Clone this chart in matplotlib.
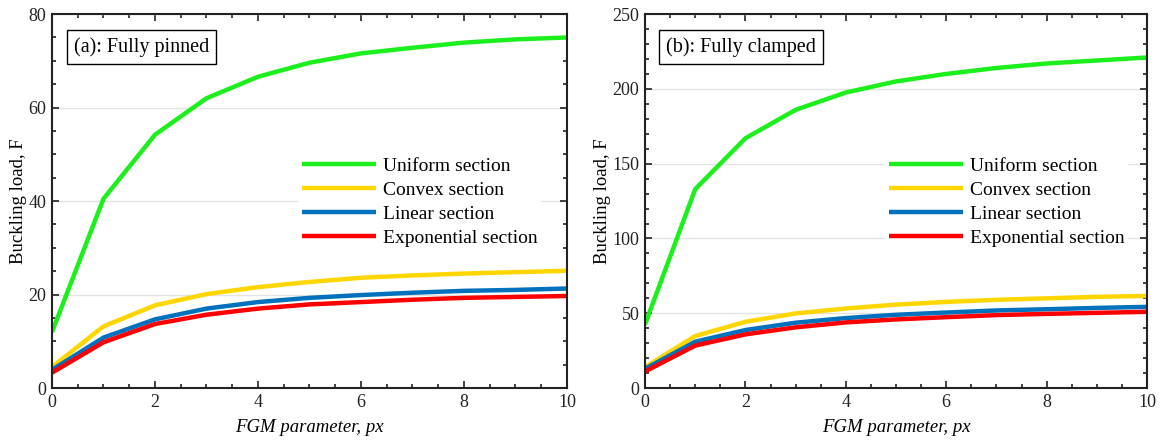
import numpy as np
import matplotlib
matplotlib.use('Agg')
from matplotlib import pyplot as plt
from matplotlib.ticker import MultipleLocator

plt.rcParams['font.family'] = ['Liberation Serif', 'DejaVu Serif']
plt.rcParams['mathtext.fontset'] = 'stix'

# FGM parameter px
px = [0, 1, 2, 3, 4, 5, 6, 7, 8, 9, 10]

# (a) fully pinned
pinned_uniform = [12.0, 40.5, 54.2, 62.0, 66.6, 69.6, 71.6, 72.8, 73.9, 74.6, 75.0]
pinned_convex = [4.5, 13.2, 17.7, 20.1, 21.6, 22.7, 23.6, 24.1, 24.5, 24.8, 25.1]
pinned_linear = [3.9, 10.8, 14.7, 17.0, 18.4, 19.3, 19.9, 20.4, 20.8, 21.0, 21.3]
pinned_expo = [3.3, 9.8, 13.7, 15.7, 17.0, 17.9, 18.4, 18.9, 19.3, 19.5, 19.7]

# (b) fully clamped
clamped_uniform = [42.6, 133.0, 167.0, 186.0, 197.6, 205.0, 210.0, 214.0, 217.0, 219.0, 221.0]
clamped_convex = [14.0, 34.8, 44.3, 49.9, 53.2, 55.8, 57.6, 59.0, 60.0, 61.0, 61.6]
clamped_linear = [12.9, 31.0, 38.8, 43.7, 46.8, 49.0, 50.5, 51.9, 52.7, 53.6, 54.3]
clamped_expo = [11.1, 28.4, 35.9, 40.6, 43.9, 45.9, 47.4, 48.8, 49.6, 50.3, 51.0]

labels = ['Uniform section', 'Convex section', 'Linear section', 'Exponential section']
colors = ['#1cf01c', '#ffd600', '#0072bd', '#ff0000']


def draw(ax, series, ymax, ymajor, yminor, title):
    for y, c, lab in zip(series, colors, labels):
        ax.plot(px, y, color=c, lw=3.2, label=lab, solid_capstyle='butt')
    ax.set_xlim(0, 10)
    ax.set_ylim(0, ymax)
    ax.xaxis.set_major_locator(MultipleLocator(2))
    ax.xaxis.set_minor_locator(MultipleLocator(0.5))
    ax.yaxis.set_major_locator(MultipleLocator(ymajor))
    ax.yaxis.set_minor_locator(MultipleLocator(yminor))
    ax.tick_params(which='both', direction='in', top=True, right=True,
                   labelsize=13, width=1.2, colors='#222222', labelcolor='#222222')
    ax.tick_params(which='major', length=5, pad=4)
    ax.tick_params(which='minor', length=3)
    ax.yaxis.grid(True, color='#e3e3e3', lw=1.0)
    ax.set_axisbelow(True)
    for s in ax.spines.values():
        s.set_linewidth(1.5)
        s.set_color('#222222')
    ax.set_xlabel('FGM parameter, px', fontsize=13.5, style='italic', labelpad=6)
    ax.set_ylabel('Buckling load, F', fontsize=13.5, labelpad=1)
    ax.text(0.042, 0.912, title, transform=ax.transAxes, fontsize=14.5,
            va='center', ha='left',
            bbox=dict(boxstyle='square,pad=0.35', fc='white', ec='black', lw=1.0))
    leg = ax.legend(loc='upper left', bbox_to_anchor=(0.478, 0.628), frameon=True,
                    fontsize=14, handlelength=3.8, handletextpad=0.35,
                    labelspacing=0.33, borderpad=0.2, borderaxespad=0)
    leg.get_frame().set_edgecolor('none')
    leg.get_frame().set_facecolor('white')
    leg.get_frame().set_alpha(1)


fig = plt.figure(figsize=(11.63, 4.41), dpi=100)
ax1 = fig.add_axes([0.0447, 0.12, 0.4428, 0.848])
ax2 = fig.add_axes([0.5546, 0.12, 0.4317, 0.848])

draw(ax1, [pinned_uniform, pinned_convex, pinned_linear, pinned_expo], 80, 20, 5,
     '(a): Fully pinned')
draw(ax2, [clamped_uniform, clamped_convex, clamped_linear, clamped_expo], 250, 50, 10,
     '(b): Fully clamped')

fig.savefig('out.png', dpi=100)
